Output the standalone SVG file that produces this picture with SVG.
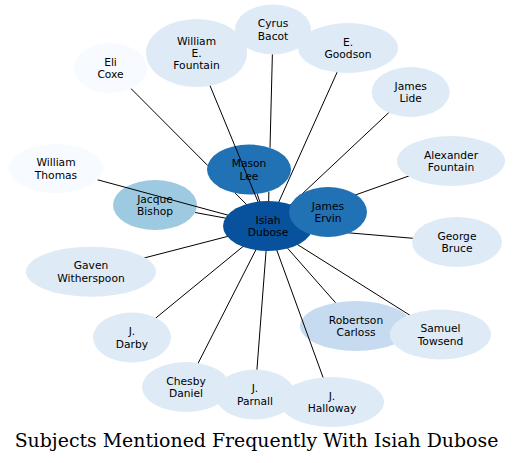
<svg xmlns="http://www.w3.org/2000/svg" width="513" height="463" viewBox="0 0 513 463">
<style>
text{font-family:"DejaVu Sans","Liberation Sans",sans-serif;font-size:10.7px;fill:#000;text-anchor:middle}
.c1{fill:#f7fbff}.c2{fill:#deebf7}.c3{fill:#c6dbef}.c4{fill:#9ecae1}.c7{fill:#2171b5}.c8{fill:#08519c}
#connectors path{stroke:#000;stroke-width:1;fill:none}
text.title{font-family:"DejaVu Serif","Liberation Serif",serif;font-size:18.9px}
</style>
<rect width="513" height="463" fill="#fff"/>
<g id="node-jacque-bishop"><ellipse class="c4" cx="155" cy="205" rx="42" ry="25"/><text x="155" y="202.7">Jacque</text><text x="155" y="215">Bishop</text></g>
<g id="node-mason-lee"><ellipse class="c7" cx="249" cy="169.5" rx="42" ry="25"/><text x="249" y="167.2">Mason</text><text x="249" y="179.5">Lee</text></g>
<g id="node-robertson-carloss"><ellipse class="c3" cx="356" cy="326" rx="56" ry="25"/><text x="356" y="323.7">Robertson</text><text x="356" y="336">Carloss</text></g>
<g id="connectors">
<path d="M257.2,194L268,226"/>
<path d="M195.1,212.5L268,226"/>
<path d="M268,226L335.5,302.7"/>
<path d="M110.5,68L207.7,165.5M235.2,193.1L268,226"/>
<path d="M273,29.5L270,147.8M268.9,191.6L268,226"/>
<path d="M196.5,53L268,226"/>
<path d="M56,168.5L268,226"/>
<path d="M348,48L268,226"/>
<path d="M410.7,92L268,226"/>
<path d="M451,161L268,226"/>
<path d="M328,212L268,226"/>
<path d="M457,242L268,226"/>
<path d="M440.5,334.5L268,226"/>
<path d="M332,402L268,226"/>
<path d="M255,394.5L268,226"/>
<path d="M186,387L268,226"/>
<path d="M132,337.5L268,226"/>
<path d="M91,271.7L268,226"/>
</g>
<g id="node-isiah-dubose"><ellipse class="c8" cx="268" cy="226" rx="45" ry="25"/><text x="268" y="223.7">Isiah</text><text x="268" y="236">Dubose</text></g>
<g id="node-james-ervin"><ellipse class="c7" cx="328" cy="212" rx="39" ry="25"/><text x="328" y="209.7">James</text><text x="328" y="222">Ervin</text></g>
<g id="node-william-thomas"><ellipse class="c1" cx="56" cy="168.5" rx="47" ry="24.5"/><text x="56" y="166.2">William</text><text x="56" y="178.5">Thomas</text></g>
<g id="node-eli-coxe"><ellipse class="c1" cx="110.5" cy="68" rx="36.5" ry="25"/><text x="110.5" y="65.7">Eli</text><text x="110.5" y="78">Coxe</text></g>
<g id="node-william-e-fountain"><ellipse class="c2" cx="196.5" cy="53" rx="50.5" ry="34"/><text x="196.5" y="44.5">William</text><text x="196.5" y="56.8">E.</text><text x="196.5" y="69.1">Fountain</text></g>
<g id="node-cyrus-bacot"><ellipse class="c2" cx="273" cy="29.5" rx="38" ry="25"/><text x="273" y="27.2">Cyrus</text><text x="273" y="39.5">Bacot</text></g>
<g id="node-e-goodson"><ellipse class="c2" cx="348" cy="48" rx="50" ry="25"/><text x="348" y="45.7">E.</text><text x="348" y="58">Goodson</text></g>
<g id="node-james-lide"><ellipse class="c2" cx="410.7" cy="92" rx="39" ry="25"/><text x="410.7" y="89.7">James</text><text x="410.7" y="102">Lide</text></g>
<g id="node-alexander-fountain"><ellipse class="c2" cx="451" cy="161" rx="54" ry="25"/><text x="451" y="158.7">Alexander</text><text x="451" y="171">Fountain</text></g>
<g id="node-george-bruce"><ellipse class="c2" cx="457" cy="242" rx="45" ry="25"/><text x="457" y="239.7">George</text><text x="457" y="252">Bruce</text></g>
<g id="node-samuel-towsend"><ellipse class="c2" cx="440.5" cy="334.5" rx="50.5" ry="25"/><text x="440.5" y="332.2">Samuel</text><text x="440.5" y="344.5">Towsend</text></g>
<g id="node-chesby-daniel"><ellipse class="c2" cx="186" cy="387" rx="44" ry="25"/><text x="186" y="384.7">Chesby</text><text x="186" y="397">Daniel</text></g>
<g id="node-j-parnall"><ellipse class="c2" cx="255" cy="394.5" rx="40" ry="25"/><text x="255" y="392.2">J.</text><text x="255" y="404.5">Parnall</text></g>
<g id="node-j-halloway"><ellipse class="c2" cx="332" cy="402" rx="52" ry="25"/><text x="332" y="399.7">J.</text><text x="332" y="412">Halloway</text></g>
<g id="node-j-darby"><ellipse class="c2" cx="132" cy="337.5" rx="39" ry="25"/><text x="132" y="335.2">J.</text><text x="132" y="347.5">Darby</text></g>
<g id="node-gaven-witherspoon"><ellipse class="c2" cx="91" cy="271.7" rx="65" ry="25"/><text x="91" y="269.4">Gaven</text><text x="91" y="281.7">Witherspoon</text></g>
<text class="title" x="256.5" y="447">Subjects Mentioned Frequently With Isiah Dubose</text>
</svg>
